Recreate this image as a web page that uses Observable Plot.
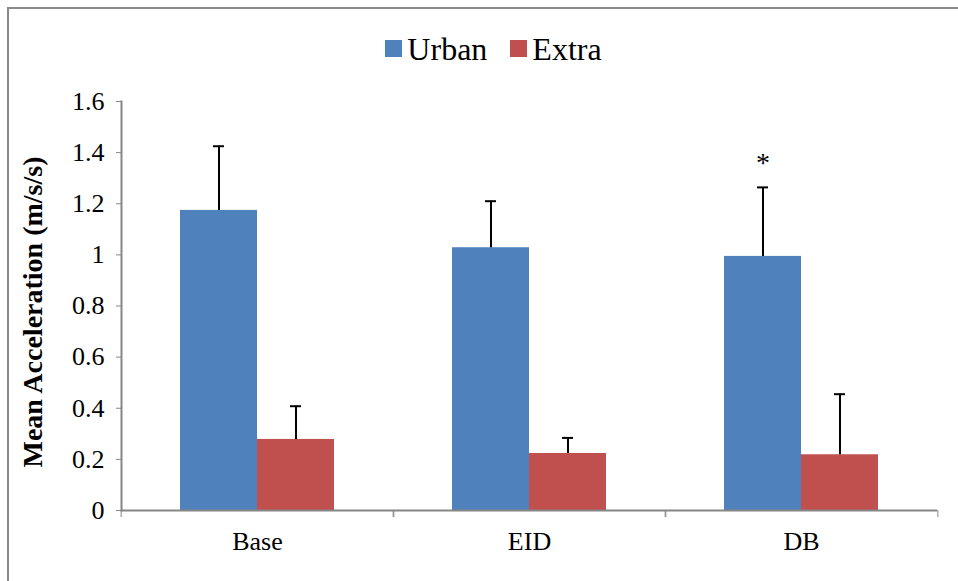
<!DOCTYPE html>
<html>
<head>
<meta charset="utf-8">
<script src="https://cdn.jsdelivr.net/npm/d3@7"></script>
<script src="https://cdn.jsdelivr.net/npm/@observablehq/plot@0.6"></script>
<style>
  html, body { margin: 0; padding: 0; background: #fff; }
  body { width: 958px; height: 581px; overflow: hidden; position: relative; }
  #border { position: absolute; left: 7px; top: 7px; width: 960px; height: 590px; border-left: 2px solid #8a8a8a; border-top: 2px solid #8a8a8a; box-sizing: border-box; }
  #legend { position: absolute; left: 0; top: 0; width: 958px; height: 80px; display: flex; justify-content: center; align-items: center; gap: 23px; padding-left: 29px; box-sizing: border-box; padding-top: 17px; }
  .item { display: flex; align-items: center; font-size: 32px; line-height: 1; color: #000; }
  .swatch { width: 17px; height: 17px; margin-right: 5px; }
  #chart { position: absolute; left: 0; top: 80px; }
</style>
</head>
<body>
<div id="border"></div>
<div id="legend"></div>
<div id="chart"></div>
<script>
const categories = ["Base", "EID", "DB"];
const series = ["Urban", "Extra"];
const urbanMeans = [1.174, 1.028, 0.994];
const urbanErrors = [0.251, 0.182, 0.270];
const extraMeans = [0.278, 0.223, 0.218];
const extraErrors = [0.130, 0.061, 0.237];
const urbanMarks = ["", "", "*"];
const yTicks = [0, 0.2, 0.4, 0.6, 0.8, 1, 1.2, 1.4, 1.6];
const colors = ["#4F81BD", "#C0504D"];
const yLabel = "Mean Acceleration (m/s/s)";

const SERIF = "Liberation Serif";

const rows = categories.flatMap((c, i) => [
  {category: c, series: series[0], mean: urbanMeans[i], err: urbanErrors[i], mark: urbanMarks[i]},
  {category: c, series: series[1], mean: extraMeans[i], err: extraErrors[i], mark: ""}
]);

// legend
const legend = document.getElementById("legend");
series.forEach((s, i) => {
  const item = document.createElement("div");
  item.className = "item";
  item.style.fontFamily = SERIF;
  const sw = document.createElement("span");
  sw.className = "swatch";
  sw.style.background = colors[i];
  item.appendChild(sw);
  item.appendChild(document.createTextNode(s));
  legend.appendChild(item);
});

const W = 958, H = 501, ML = 120, MR = 20, MT = 21, MB = 71;
const band = (W - ML - MR) / categories.length;
const axisColor = "#868686";

const chart = Plot.plot({
  width: W,
  height: H,
  marginLeft: ML,
  marginRight: MR,
  marginTop: MT,
  marginBottom: MB,
  style: {fontFamily: SERIF, fontSize: "26px", color: "#000", background: "transparent"},
  fx: {domain: categories, padding: 0, label: null},
  x: {domain: series, paddingInner: 0, paddingOuter: 0.748, axis: null},
  y: {domain: [0, 1.6], axis: null},
  color: {domain: series, range: colors},
  marks: [
    Plot.barY(rows, {fx: "category", x: "series", y: "mean", fill: "series"}),
    Plot.ruleX(rows, {fx: "category", x: "series", y1: "mean", y2: d => d.mean + d.err, stroke: "#000", strokeWidth: 2}),
    Plot.tickY(rows, {fx: "category", x: "series", y: d => d.mean + d.err, stroke: "#000", strokeWidth: 2, inset: 33}),
    Plot.text(rows.filter(d => d.mark), {fx: "category", x: "series", y: d => d.mean + d.err, text: "mark", dy: -24, fill: "#000", fontSize: 28, fontFamily: SERIF}),
    Plot.ruleY([0], {stroke: axisColor, strokeWidth: 2}),
    Plot.frame({anchor: "left", stroke: axisColor, strokeWidth: 2, facetAnchor: "left"}),
    Plot.axisY({ticks: yTicks, tickSize: 5, tickPadding: 12, stroke: axisColor, tickFormat: d => String(+d.toFixed(1)), fill: "#000", fontSize: 26, fontFamily: SERIF, label: yLabel, labelAnchor: "center", labelArrow: "none", labelOffset: 99}),
    Plot.axisFx({anchor: "bottom", tickSize: 0, tickPadding: 21, fill: "#000", fontSize: 26, fontFamily: SERIF, label: null}),
    Plot.axisFx({anchor: "bottom", tickSize: 7, text: null, dx: -band / 2, stroke: axisColor, label: null}),
    Plot.axisFx(categories.slice(-1), {anchor: "bottom", tickSize: 7, text: null, dx: band / 2, stroke: axisColor, label: null})
  ]
});
chart.setAttribute("font-family", SERIF);
const lab = chart.querySelector("g[aria-label='y-axis label']");
if (lab) {
  lab.setAttribute("font-weight", "bold");
  lab.setAttribute("font-size", "28");
  lab.setAttribute("font-family", SERIF);
  const t = lab.getAttribute("transform");
  lab.setAttribute("transform", (t ? t + " " : "") + "translate(0,6)");
}
document.getElementById("chart").appendChild(chart);
</script>
</body>
</html>
